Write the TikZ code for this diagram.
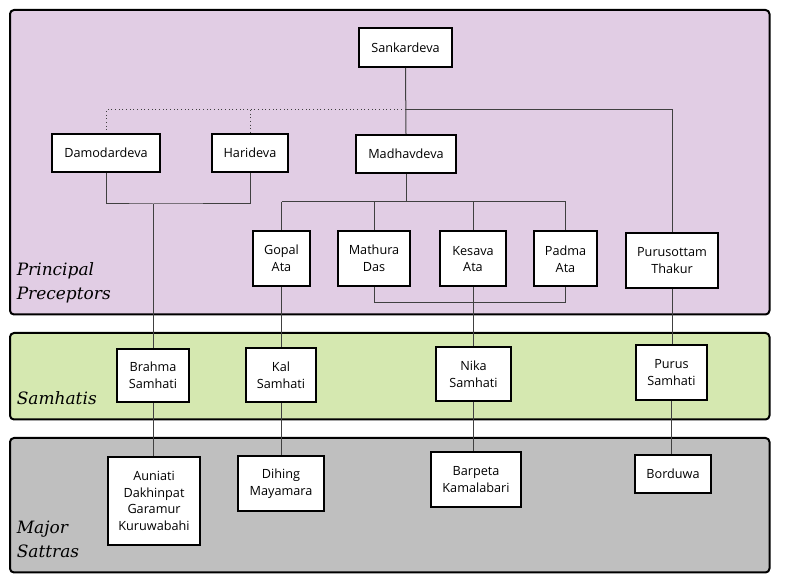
\documentclass[tikz,border=0pt]{standalone}
\usepackage{fontspec}
\setmainfont{Open Sans}
\newfontfamily\bandfont{DejaVu Serif}
\usetikzlibrary{positioning}

\definecolor{preceptfill}{HTML}{E1CDE4}
\definecolor{samhatifill}{HTML}{D5E8B0}
\definecolor{sattrafill}{HTML}{BFBFBF}

\tikzset{
    band/.style={draw=black, line width=1.5pt, rounded corners=3pt},
    bandlabel/.style={anchor=west, align=left, inner sep=0pt, font=\bandfont\itshape\fontsize{12.75}{18}\selectfont},
    person/.style={draw=black, fill=white, line width=1.5pt, align=center, inner sep=0pt, font=\fontsize{9.5}{12.5}\selectfont},
    link/.style={draw=black!75, line width=0.75pt},
    dotlink/.style={draw=black!75, line width=0.75pt, dotted}
}

\begin{document}
\begin{tikzpicture}[x=0.75pt, y=-0.75pt]
    \useasboundingbox (0,0) rectangle (800,580);

    \draw[band, fill=preceptfill] (10,10) rectangle (769.5,314.5);
    \draw[band, fill=samhatifill] (10,333) rectangle (769.5,419.5);
    \draw[band, fill=sattrafill] (10,438) rectangle (769.5,572.5);

    \node[bandlabel] at (16.5,283)(lprecept){Principal\\Preceptors};
    \node[bandlabel] at (16.5,398)(lsamhati){Samhatis};
    \node[bandlabel] at (16.5,539)(lsattra){Major\\Sattras};

    \node[person, minimum width=69.75pt, minimum height=29.25pt] at (405.5,47.5)(sank){Sankardeva};
    \node[person, minimum width=81pt, minimum height=28.5pt] at (106,153)(damo){Damodardeva};
    \node[person, minimum width=57pt, minimum height=28.5pt] at (250,153)(hari){Harideva};
    \node[person, minimum width=75pt, minimum height=28.5pt] at (406,154)(madh){Madhavdeva};

    \node[person, minimum width=42.75pt, minimum height=41.25pt] at (281.5,258.5)(gopa){Gopal\\Ata};
    \node[person, minimum width=54pt, minimum height=41.25pt] at (374,258.5)(math){Mathura\\Das};
    \node[person, minimum width=49.5pt, minimum height=41.25pt] at (473,259)(kesa){Kesava\\Ata};
    \node[person, minimum width=47.25pt, minimum height=41.25pt] at (565.5,259)(padm){Padma\\Ata};
    \node[person, minimum width=69pt, minimum height=41.25pt] at (672,260.5)(puru){Purusottam\\Thakur};

    \node[person, minimum width=54pt, minimum height=39.75pt] at (153,375.5)(brah){Brahma\\Samhati};
    \node[person, minimum width=52.5pt, minimum height=40.5pt] at (281,375)(kals){Kal\\Samhati};
    \node[person, minimum width=56.25pt, minimum height=40.5pt] at (473.5,374)(nika){Nika\\Samhati};
    \node[person, minimum width=53.25pt, minimum height=41.25pt] at (671.5,372.5)(purs){Purus\\Samhati};

    \node[person, minimum width=69pt, minimum height=66pt] at (154,501)(auni){Auniati\\Dakhinpat\\Garamur\\Kuruwabahi};
    \node[person, minimum width=64.5pt, minimum height=41.25pt] at (281,483.5)(dihi){Dihing\\Mayamara};
    \node[person, minimum width=67.5pt, minimum height=41.25pt] at (476,479.5)(barp){Barpeta\\Kamalabari};
    \node[person, minimum width=57pt, minimum height=28.5pt] at (673,474)(bord){Borduwa};

    \coordinate (split) at (405.5,110);
    \coordinate (dhjoin) at (153,204);
    \coordinate (madjoin) at (406,202);
    \coordinate (mpjoin) at (374,302.5);

    \draw[link](sank.south) -- (madh.north);
    \draw[link](split) -| (puru.north);
    \draw[dotlink](split) -| (damo.north);
    \draw[dotlink](hari.north |- split) -- (hari.north);

    \draw[link](damo.south) |- (dhjoin) -| (hari.south);
    \draw[link](dhjoin) -- (brah.north);

    \draw[link](madh.south) -- (madjoin);
    \draw[link](gopa.north |- madjoin) -- (padm.north |- madjoin);
    \foreach \who in {gopa,math,kesa,padm}
        \draw[link](\who.north |- madjoin) -- (\who.north);
    \draw[link](math.south) -- (mpjoin) -| (padm.south);

    \draw[link](gopa.south) -- (gopa.south |- kals.north);
    \draw[link](kesa.south) -- (kesa.south |- nika.north);
    \draw[link](puru.south) -- (puru.south |- purs.north);

    \draw[link](brah.south) -- (brah.south |- auni.north);
    \draw[link](kals.south) -- (kals.south |- dihi.north);
    \draw[link](nika.south) -- (nika.south |- barp.north);
    \draw[link](purs.south) -- (purs.south |- bord.north);
\end{tikzpicture}
\end{document}
